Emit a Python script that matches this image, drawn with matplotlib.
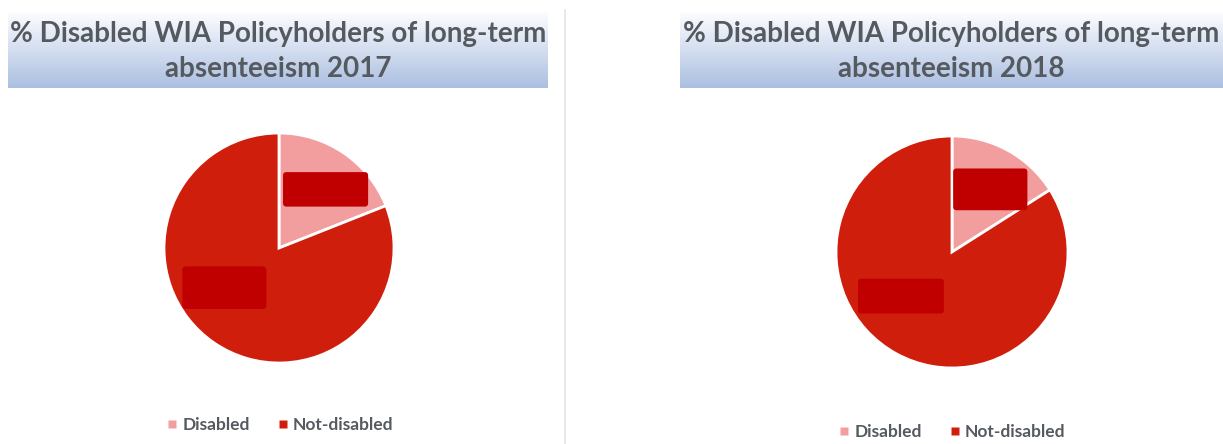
import numpy as np
import matplotlib
matplotlib.use('Agg')
import matplotlib.pyplot as plt
from matplotlib.patches import FancyBboxPatch
from matplotlib.lines import Line2D

# data (labels are redacted in the source)
categories = ['Disabled', 'Not-disabled']
share_2017 = [19, 81]
share_2018 = [16, 84]
years = ['2017', '2018']

W, H = 1223, 444
colors = ['#F29E9E', '#D01E0C']
redact = '#C00000'
text_grey = '#555a60'
font = ['Lato', 'DejaVu Sans']

fig = plt.figure(figsize=(W / 100, H / 100), dpi=100)

def px(x0, y0, w, h):
    # pixel box (top-left origin) -> figure fraction rect
    return [x0 / W, 1 - (y0 + h) / H, w / W, h / H]

# gradient for the title bands
grad = np.linspace(0, 1, 100).reshape(-1, 1)
top = np.array([0.99, 0.99, 1.0])
bot = np.array([0.67, 0.75, 0.88])
band_img = (top + (bot - top) * grad[..., None]).reshape(100, 1, 3)

# title band positions, pie centres, redaction boxes (pie units), legend centres
bands = [(8, 12, 540, 76), (680, 12, 543, 76)]
pie_centres = [(279, 248, 115), (952, 252, 116)]
boxes = [
    [(0.035, 0.36, 0.74, 0.30), (-0.84, -0.53, 0.73, 0.37)],
    [(0.01, 0.36, 0.64, 0.36), (-0.81, -0.53, 0.74, 0.30)],
]
legend_pos = [(280, 425), (952, 432)]

for i, vals in enumerate([share_2017, share_2018]):
    bx, by, bw, bh = bands[i]
    bax = fig.add_axes(px(bx, by, bw, bh))
    bax.imshow(band_img, aspect='auto', extent=(0, 1, 0, 1))
    bax.set_axis_off()
    bax.text(0.5, 0.48, '% Disabled WIA Policyholders of long-term\nabsenteeism ' + years[i],
             ha='center', va='center', fontsize=20, fontweight='bold',
             color=text_grey, family=font, linespacing=1.4,
             transform=bax.transAxes)

    cx, cy, r = pie_centres[i]
    lim = 1.2
    size = 2 * lim * r
    ax = fig.add_axes(px(cx - size / 2, cy - size / 2, size, size))
    ax.pie(vals, colors=colors, startangle=90, counterclock=False,
           wedgeprops=dict(edgecolor='white', linewidth=2), frame=False)
    ax.set_xlim(-lim, lim)
    ax.set_ylim(-lim, lim)
    ax.set_aspect('equal')
    ax.set_axis_off()
    for (x0, y0, w, h) in boxes[i]:
        ax.add_patch(FancyBboxPatch((x0, y0), w, h,
                                    boxstyle='round,pad=0,rounding_size=0.03',
                                    facecolor=redact, edgecolor='none', zorder=5))

    handles = [Line2D([], [], marker='s', linestyle='none', markersize=5.5,
                      markerfacecolor=c, markeredgecolor='none') for c in colors]
    lx, ly = legend_pos[i]
    fig.legend(handles, categories, loc='center', bbox_to_anchor=(lx / W, 1 - ly / H),
               ncol=2, frameon=False, handlelength=0.6, handletextpad=0.3,
               columnspacing=1.6,
               prop=dict(family=font, weight='bold', size=12.5),
               labelcolor=text_grey)

# thin separator between the two panels
fig.add_artist(Line2D([565 / W, 565 / W], [0, 1 - 10 / H], color='#E4E4E4', linewidth=1.2))

fig.savefig('out.png', dpi=100, facecolor='white')
